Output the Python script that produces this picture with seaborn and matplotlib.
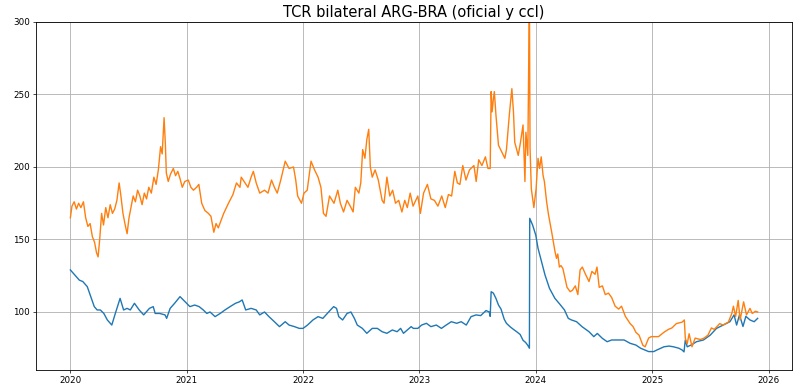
"""
TCR bilateral ARG-BRA: official vs ccl real exchange rate.
"""

import pandas as pd
import matplotlib
matplotlib.use('Agg')
import matplotlib.pyplot as plt
import matplotlib.dates as mdates
import seaborn as sns

# --- ccl series (orange) ---
ccl_dates = [
    "2020-01-02", "2020-01-07", "2020-01-14", "2020-01-21", "2020-01-28", "2020-02-04",
    "2020-02-12", "2020-02-19", "2020-02-26", "2020-03-04", "2020-03-11", "2020-03-18",
    "2020-03-24", "2020-03-29", "2020-04-03", "2020-04-09", "2020-04-15", "2020-04-22",
    "2020-04-29", "2020-05-06", "2020-05-13", "2020-05-20", "2020-05-27", "2020-06-03",
    "2020-06-08", "2020-06-15", "2020-06-22", "2020-06-28", "2020-07-04", "2020-07-10",
    "2020-07-17", "2020-07-24", "2020-07-31", "2020-08-07", "2020-08-14", "2020-08-21",
    "2020-08-28", "2020-09-04", "2020-09-12", "2020-09-20", "2020-09-27", "2020-10-04",
    "2020-10-11", "2020-10-16", "2020-10-22", "2020-10-26", "2020-10-29", "2020-11-04",
    "2020-11-11", "2020-11-20", "2020-11-27", "2020-12-04", "2020-12-11", "2020-12-18",
    "2020-12-26", "2021-01-06", "2021-01-14", "2021-01-22", "2021-02-01", "2021-02-08",
    "2021-02-17", "2021-02-27", "2021-03-10", "2021-03-18", "2021-03-27", "2021-04-03",
    "2021-04-10", "2021-04-27", "2021-05-12", "2021-05-26", "2021-06-06", "2021-06-17",
    "2021-06-21", "2021-06-30", "2021-07-12", "2021-07-22", "2021-07-29", "2021-08-07",
    "2021-08-18", "2021-09-02", "2021-09-13", "2021-09-24", "2021-10-03", "2021-10-12",
    "2021-10-23", "2021-11-06", "2021-11-18", "2021-12-02", "2021-12-09", "2021-12-15",
    "2021-12-27", "2022-01-04", "2022-01-14", "2022-01-26", "2022-02-06", "2022-02-17",
    "2022-02-26", "2022-03-06", "2022-03-14", "2022-03-25", "2022-04-08", "2022-04-20",
    "2022-04-28", "2022-05-08", "2022-05-19", "2022-05-29", "2022-06-07", "2022-06-14",
    "2022-06-25", "2022-07-01", "2022-07-07", "2022-07-14", "2022-07-20", "2022-07-26",
    "2022-07-31", "2022-08-06", "2022-08-15", "2022-08-25", "2022-09-06", "2022-09-12",
    "2022-09-21", "2022-09-30", "2022-10-09", "2022-10-18", "2022-10-28", "2022-11-07",
    "2022-11-16", "2022-11-24", "2022-12-03", "2022-12-12", "2022-12-27", "2023-01-04",
    "2023-01-14", "2023-01-26", "2023-02-06", "2023-02-17", "2023-02-28", "2023-03-12",
    "2023-03-23", "2023-04-02", "2023-04-12", "2023-04-22", "2023-04-30", "2023-05-08",
    "2023-05-17", "2023-05-27", "2023-06-07", "2023-06-21", "2023-06-28", "2023-07-06",
    "2023-07-16", "2023-07-27", "2023-08-04", "2023-08-11", "2023-08-14", "2023-08-17",
    "2023-08-21", "2023-08-24", "2023-08-29", "2023-09-06", "2023-09-15", "2023-09-26",
    "2023-10-01", "2023-10-10", "2023-10-18", "2023-10-23", "2023-10-27", "2023-11-07",
    "2023-11-14", "2023-11-22", "2023-11-28", "2023-12-01", "2023-12-07", "2023-12-12",
    "2023-12-14", "2023-12-18", "2023-12-26", "2024-01-02", "2024-01-08", "2024-01-13",
    "2024-01-18", "2024-01-24", "2024-01-28", "2024-02-04", "2024-02-10", "2024-02-20",
    "2024-03-01", "2024-03-06", "2024-03-10", "2024-03-15", "2024-03-20", "2024-03-26",
    "2024-04-08", "2024-04-18", "2024-04-25", "2024-05-04", "2024-05-12", "2024-05-19",
    "2024-05-26", "2024-06-05", "2024-06-16", "2024-06-25", "2024-07-05", "2024-07-11",
    "2024-07-18", "2024-07-28", "2024-08-06", "2024-08-16", "2024-08-26", "2024-09-06",
    "2024-09-17", "2024-09-26", "2024-10-08", "2024-10-23", "2024-11-01", "2024-11-10",
    "2024-11-20", "2024-12-02", "2024-12-09", "2024-12-20", "2024-12-28", "2025-01-10",
    "2025-01-20", "2025-02-06", "2025-02-20", "2025-03-03", "2025-03-17", "2025-04-04",
    "2025-04-11", "2025-04-14", "2025-04-20", "2025-04-26", "2025-05-05", "2025-05-15",
    "2025-05-31", "2025-06-12", "2025-06-24", "2025-07-05", "2025-07-14", "2025-07-31",
    "2025-08-10", "2025-08-27", "2025-09-07", "2025-09-12", "2025-09-19", "2025-09-27",
    "2025-10-03", "2025-10-14", "2025-10-23", "2025-11-03", "2025-11-10", "2025-11-20",
    "2025-11-27",
]
ccl_values = [
    165, 173, 176, 171, 175, 172,
    176, 165, 159, 161, 152, 148,
    141, 138, 150, 168, 160, 172,
    165, 174, 168, 171, 177, 189,
    181, 168, 160, 154, 165, 172,
    180, 176, 184, 180, 174, 182,
    178, 186, 182, 193, 188, 198,
    214, 209, 234, 216, 196, 190,
    195, 199, 194, 197, 192, 186,
    190, 191, 186, 184, 186, 188,
    175, 170, 168, 166, 155, 161,
    158, 168, 175, 181, 189, 186,
    193, 190, 186, 193, 197, 189,
    182, 184, 182, 191, 186, 182,
    191, 204, 199, 200, 191, 180,
    175, 182, 184, 204, 198, 193,
    186, 168, 166, 180, 175, 184,
    175, 169, 177, 173, 169, 186,
    182, 189, 212, 206, 219, 226,
    200, 193, 198, 191, 177, 175,
    193, 180, 184, 175, 177, 169,
    177, 172, 182, 173, 180, 168,
    182, 188, 178, 177, 173, 180,
    172, 181, 180, 197, 189, 188,
    201, 191, 198, 201, 190, 205,
    201, 207, 199, 199, 252, 238,
    247, 252, 236, 215, 211, 206,
    212, 236, 254, 238, 217, 208,
    217, 229, 190, 224, 208, 320,
    213, 185, 172, 185, 206, 199,
    207, 194, 190, 176, 167, 155,
    142, 137, 140, 131, 132, 130,
    117, 114, 115, 118, 112, 129,
    131, 126, 121, 128, 126, 131,
    117, 118, 112, 113, 110, 104,
    102, 104, 97, 92, 90, 86,
    84, 77, 76, 82, 83, 83,
    83, 86, 88, 89, 92, 93,
    94.5, 82, 78, 85, 76, 82,
    81, 82, 84, 89, 88, 92,
    91, 93, 99, 104, 97, 108,
    94.5, 107, 98, 102.5, 99, 100.5,
    100,
]

# --- oficial series (blue) ---
oficial_dates = [
    "2020-01-02", "2020-01-10", "2020-01-16", "2020-01-30", "2020-02-10", "2020-02-24",
    "2020-03-06", "2020-03-17", "2020-03-26", "2020-04-05", "2020-04-16", "2020-04-27",
    "2020-05-11", "2020-05-22", "2020-06-06", "2020-06-17", "2020-06-28", "2020-07-08",
    "2020-07-21", "2020-08-05", "2020-08-19", "2020-09-06", "2020-09-18", "2020-09-24",
    "2020-10-08", "2020-10-25", "2020-10-30", "2020-11-10", "2020-11-24", "2020-12-11",
    "2020-12-27", "2021-01-11", "2021-01-26", "2021-02-09", "2021-02-22", "2021-03-05",
    "2021-03-15", "2021-03-31", "2021-04-16", "2021-05-01", "2021-05-17", "2021-06-03",
    "2021-06-15", "2021-06-24", "2021-07-05", "2021-07-22", "2021-08-07", "2021-08-18",
    "2021-09-02", "2021-09-16", "2021-10-03", "2021-10-19", "2021-11-06", "2021-11-18",
    "2021-12-05", "2021-12-20", "2022-01-01", "2022-01-15", "2022-02-01", "2022-02-17",
    "2022-03-04", "2022-03-18", "2022-03-28", "2022-04-07", "2022-04-16", "2022-04-23",
    "2022-05-05", "2022-05-19", "2022-05-31", "2022-06-11", "2022-06-20", "2022-07-06",
    "2022-07-20", "2022-08-06", "2022-08-22", "2022-09-06", "2022-09-21", "2022-10-08",
    "2022-10-23", "2022-11-03", "2022-11-12", "2022-11-24", "2022-12-06", "2022-12-13",
    "2022-12-27", "2023-01-08", "2023-01-23", "2023-02-06", "2023-02-23", "2023-03-11",
    "2023-03-26", "2023-04-11", "2023-04-28", "2023-05-12", "2023-05-28", "2023-06-12",
    "2023-06-28", "2023-07-12", "2023-07-29", "2023-08-08", "2023-08-11", "2023-08-14",
    "2023-08-21", "2023-08-29", "2023-09-06", "2023-09-14", "2023-09-24", "2023-10-01",
    "2023-10-12", "2023-10-23", "2023-11-02", "2023-11-13", "2023-11-22", "2023-11-30",
    "2023-12-07", "2023-12-12", "2023-12-13", "2023-12-18", "2023-12-22", "2024-01-01",
    "2024-01-08", "2024-01-19", "2024-01-30", "2024-02-13", "2024-03-01", "2024-03-16",
    "2024-03-31", "2024-04-12", "2024-04-22", "2024-05-08", "2024-05-25", "2024-06-16",
    "2024-07-01", "2024-07-12", "2024-07-28", "2024-08-12", "2024-08-26", "2024-09-17",
    "2024-10-04", "2024-10-23", "2024-11-10", "2024-11-25", "2024-12-20", "2025-01-05",
    "2025-01-15", "2025-02-06", "2025-02-22", "2025-03-08", "2025-03-25", "2025-04-04",
    "2025-04-10", "2025-04-14", "2025-04-20", "2025-05-05", "2025-05-19", "2025-06-10",
    "2025-07-01", "2025-07-21", "2025-08-11", "2025-09-01", "2025-09-14", "2025-09-22",
    "2025-10-01", "2025-10-12", "2025-10-21", "2025-11-03", "2025-11-16", "2025-11-27",
]
oficial_values = [
    129, 127, 125.5, 122, 121, 117.5,
    110.6, 103.7, 101.4, 101.4, 99, 94.5,
    91, 99, 109.4, 101.4, 102.5, 101.4,
    106, 101.4, 98, 102.5, 103.7, 99,
    99, 98, 95.6, 102.5, 106, 110.6,
    107, 103.7, 104.8, 103.7, 101.4, 99,
    100, 96.8, 99, 101.4, 103.7, 106,
    107, 108.3, 101.4, 102.5, 101.4, 98,
    100, 96.8, 93.3, 89.9, 93.3, 91,
    89.9, 88.7, 88.7, 91, 94.5, 96.8,
    95.6, 99, 101.4, 103.7, 102.5, 96.8,
    94.5, 99, 100, 95.6, 91, 88.7,
    85.3, 88.7, 88.7, 86.4, 85.3, 87.6,
    86.4, 88.7, 85.3, 87.6, 89.9, 88.7,
    88.7, 91, 92.2, 89.9, 91, 88.7,
    91, 93.3, 92.2, 93.3, 91, 96.8,
    98, 97.5, 101, 100, 97, 114,
    113, 109.4, 104.8, 102, 95, 92.2,
    89.9, 88, 86.4, 84.5, 80.5, 79,
    77, 75, 164.6, 162, 160, 153,
    144, 134.7, 125.5, 116.3, 109.4, 105.5,
    101.4, 95.6, 94.5, 93.3, 89.9, 86.4,
    83, 85.2, 81.8, 79.5, 80.7, 80.7,
    80.7, 78.4, 77.2, 75, 72.7, 72.7,
    73.8, 76, 76.5, 76, 75, 73.8,
    72.5, 80.7, 76, 77.5, 79.5, 80.7,
    84, 88.7, 91, 93.3, 98, 91,
    98, 90, 97, 94.5, 93.3, 95.6,
]

oficial = pd.DataFrame({"fecha": pd.to_datetime(oficial_dates), "tcr": oficial_values})
ccl = pd.DataFrame({"fecha": pd.to_datetime(ccl_dates), "tcr": ccl_values})

fig = plt.figure(figsize=(8.09, 3.9), dpi=100)
ax = fig.add_axes([0.0445, 0.0513, 0.9345, 0.8923])

sns.lineplot(data=oficial, x="fecha", y="tcr", ax=ax, color="#1f77b4", linewidth=1.0)
sns.lineplot(data=ccl, x="fecha", y="tcr", ax=ax, color="#ff7f0e", linewidth=1.0)

ax.set_ylim(60, 300)
ax.set_yticks([100, 150, 200, 250, 300])
ax.xaxis.set_major_locator(mdates.YearLocator())
ax.xaxis.set_major_formatter(mdates.DateFormatter("%Y"))
ax.set_xlabel("")
ax.set_ylabel("")
ax.grid(True, color="#b0b0b0", linewidth=0.6)
ax.tick_params(labelsize=6.3, length=2.2, width=0.5, pad=2.2)
for s in ax.spines.values():
    s.set_linewidth(0.6)
ax.set_title("TCR bilateral ARG-BRA (oficial y ccl)", fontsize=10.5, pad=3.5)

plt.savefig("out.png", dpi=100)
plt.close()
